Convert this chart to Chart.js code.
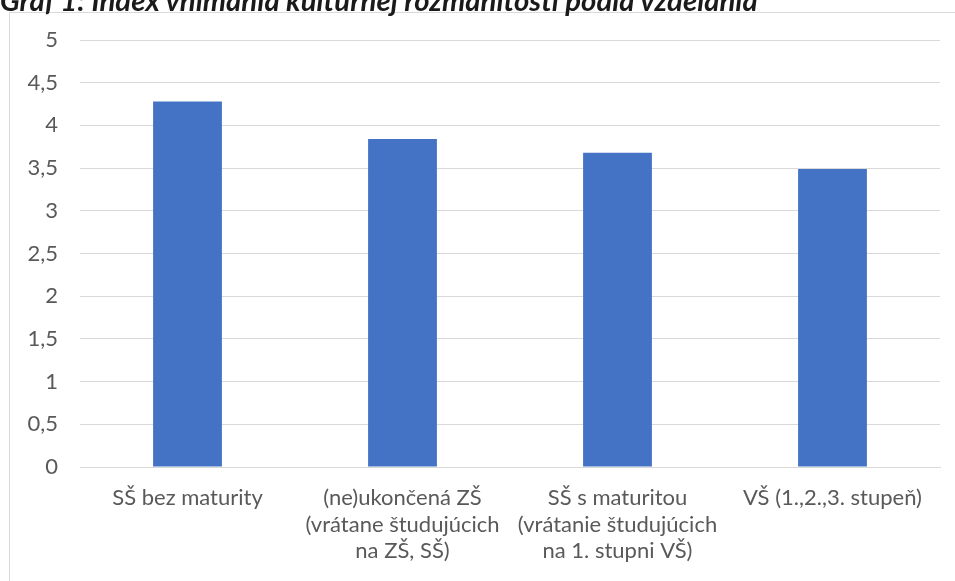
<!DOCTYPE html>
<html><head><meta charset="utf-8">
<script src="https://cdn.jsdelivr.net/npm/chart.js@4/dist/chart.umd.min.js"></script>
<style>
html,body{margin:0;padding:0;background:#fff;overflow:hidden;width:955px;height:581px;}
#frame{position:absolute;left:9px;top:12px;width:960px;height:600px;border:1px solid #d9d9d9;box-sizing:border-box;}
#title{position:absolute;left:0;font-family:Lato,"Open Sans",sans-serif;font-weight:bold;font-style:italic;color:#1a1a1a;white-space:nowrap;line-height:1;}
#wrap{position:absolute;left:0;top:0;width:955px;height:581px;}
</style></head>
<body>
<div id="frame"></div>
<div id="wrap"><canvas id="c" width="955" height="581"></canvas></div>
<div id="title">Graf 1: Index vnímania kultúrnej rozmanitosti podľa vzdelania</div>
<script>
const categories = [
  ["SŠ bez maturity"],
  ["(ne)ukončená ZŠ", "(vrátane študujúcich", "na ZŠ, SŠ)"],
  ["SŠ s maturitou", "(vrátanie študujúcich", "na 1. stupni VŠ)"],
  ["VŠ (1.,2.,3. stupeň)"]
];
const values = [4.28, 3.84, 3.68, 3.49];
const yTicks = [0, 0.5, 1, 1.5, 2, 2.5, 3, 3.5, 4, 4.5, 5];

// fit title width to reference (~760px), baseline near y=10
(function(){
  const t = document.getElementById('title');
  t.style.fontSize = '20px';
  const w = t.getBoundingClientRect().width;
  const fs = 20 * 758 / w;
  t.style.fontSize = fs + 'px';
  t.style.top = (11 - 0.887 * fs) + 'px';
})();

const FONT = 'Lato, "Open Sans", sans-serif';
new Chart(document.getElementById('c'), {
  type: 'bar',
  data: { labels: categories, datasets: [{ data: values, backgroundColor: '#4472c4', borderWidth: 0, barPercentage: 0.32, categoryPercentage: 1 }] },
  options: {
    responsive: false, animation: false,
    layout: { padding: { left: 0, right: 15, top: 40, bottom: 0 } },
    plugins: { legend: { display: false }, tooltip: { enabled: false } },
    scales: {
      x: {
        grid: { display: false, drawTicks: false },
        border: { display: true, color: '#d9d9d9', width: 1 },
        ticks: { color: '#595959', font: { family: FONT, size: 22, lineHeight: 1.2 }, padding: 18, maxRotation: 0, autoSkip: false },
        afterFit: (s) => { s.height = 114; }
      },
      y: {
        min: 0, max: 5,
        afterBuildTicks: (s) => { s.ticks = yTicks.map(v => ({ value: v })); },
        grid: { color: '#d9d9d9', drawTicks: false },
        border: { display: false },
        ticks: { color: '#595959', font: { family: FONT, size: 22 }, padding: 22,
          callback: (v) => String(v).replace('.', ',') },
        afterFit: (s) => { s.width = 80; }
      }
    }
  }
});
</script>
</body></html>
